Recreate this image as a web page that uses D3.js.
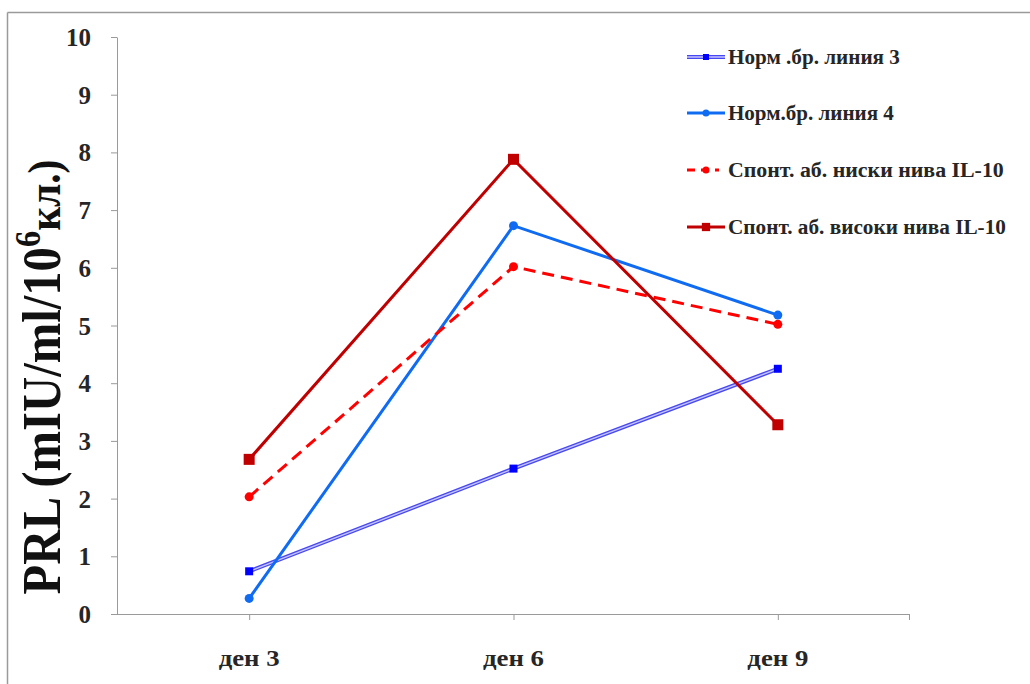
<!DOCTYPE html>
<html>
<head>
<meta charset="utf-8">
<script src="https://cdn.jsdelivr.net/npm/d3@7"></script>
<style>
  html, body { margin: 0; padding: 0; background: #fff; }
  svg { display: block; }
</style>
</head>
<body>
<svg id="chart" width="1030" height="684"></svg>
<script>
// Days on the x axis
const days = ["ден 3", "ден 6", "ден 9"];
// Y ticks
const yTicks = [0, 1, 2, 3, 4, 5, 6, 7, 8, 9, 10];

// PRL values per group
const normLine3 = [0.74, 2.52, 4.25];
const normLine4 = [0.27, 6.73, 5.18];
const spontLow = [2.03, 6.02, 5.02];
const spontHigh = [2.68, 7.88, 3.28];

const seriesNames = [
  "Норм .бр. линия 3",
  "Норм.бр. линия 4",
  "Спонт. аб. ниски нива IL-10",
  "Спонт. аб. високи нива IL-10"
];

const FONT = "Liberation Serif";
const TEXT_COLOR = "#262626";

const series = [
  { name: seriesNames[0], values: normLine3, kind: "double", color: "#4848f0", inner: "#c4c4ff", marker: "square", size: 8, markerColor: "#0000ff" },
  { name: seriesNames[1], values: normLine4, kind: "solid", color: "#0f6cf2", width: 3, marker: "circle", size: 4.5, markerColor: "#0f6cf2" },
  { name: seriesNames[2], values: spontLow, kind: "dashed", color: "#ff0000", width: 3, marker: "circle", size: 4.5, markerColor: "#ff0000" },
  { name: seriesNames[3], values: spontHigh, kind: "solid", color: "#c00000", width: 3, marker: "square", size: 11, markerColor: "#c00000" }
];

const svg = d3.select("#chart");

// squeeze a text element horizontally so it spans the given width
function fitWidth(textSel, width, anchorX) {
  const node = textSel.node();
  const len = node.getComputedTextLength();
  const k = width / len;
  textSel.attr("transform", `translate(${anchorX},0) scale(${k},1) translate(${-anchorX},0)`);
}

// frame edges
svg.append("line").attr("x1", 7.5).attr("y1", 12.5).attr("x2", 7.5).attr("y2", 684)
  .attr("stroke", "#9a9a9a").attr("stroke-width", 1.5);
svg.append("line").attr("x1", 7.5).attr("y1", 12.5).attr("x2", 1030).attr("y2", 12.5)
  .attr("stroke", "#9a9a9a").attr("stroke-width", 1.5);

const plot = { left: 117, right: 910, top: 37, bottom: 614 };

const x = d3.scaleBand().domain(days).range([plot.left, plot.right]);
const y = d3.scaleLinear().domain([0, 10]).range([plot.bottom, plot.top]);
const cx = d => x(d) + x.bandwidth() / 2;

// y axis
const yAxis = svg.append("g").attr("transform", `translate(${plot.left},0)`)
  .call(d3.axisLeft(y).tickValues(yTicks).tickSize(6).tickPadding(20).tickSizeOuter(0));
yAxis.select(".domain").attr("stroke", "#9a9a9a");
yAxis.selectAll(".tick line").attr("stroke", "#9a9a9a");
yAxis.selectAll(".tick text").attr("font-size", 25).attr("font-family", FONT)
  .attr("font-weight", "bold").attr("fill", TEXT_COLOR).attr("dy", "0.34em");

// x axis with ticks on category centers and at the right end
const xAxisG = svg.append("g").attr("transform", `translate(0,${plot.bottom})`);
xAxisG.append("line").attr("x1", plot.left).attr("x2", plot.right).attr("y1", 0.5).attr("y2", 0.5)
  .attr("stroke", "#9a9a9a");
days.forEach(d => {
  xAxisG.append("line").attr("x1", cx(d) + 0.5).attr("x2", cx(d) + 0.5).attr("y1", 0).attr("y2", 6)
    .attr("stroke", "#9a9a9a");
  const t = xAxisG.append("text").attr("x", cx(d)).attr("y", 52).attr("text-anchor", "middle")
    .attr("font-family", FONT).attr("font-weight", "bold").attr("fill", TEXT_COLOR)
    .attr("font-size", 24).text(d);
  fitWidth(t, 61, cx(d));
});
xAxisG.append("line").attr("x1", plot.right - 0.5).attr("x2", plot.right - 0.5).attr("y1", 0).attr("y2", 6)
  .attr("stroke", "#9a9a9a");

// y axis title
const titleG = svg.append("g").attr("transform", "translate(60,377) rotate(-90)");
const title = titleG.append("text").attr("x", 0).attr("y", 0)
  .attr("text-anchor", "middle").attr("font-size", 54)
  .attr("font-family", FONT).attr("font-weight", "bold").attr("fill", "#111");
title.append("tspan").text("PRL (mIU/ml/10");
title.append("tspan").attr("dy", -20).attr("font-size", 36).text("6");
title.append("tspan").attr("dy", 20).attr("font-size", 46).text("кл.)");
fitWidth(title, 435, 0);

const line = d3.line().x((v, i) => cx(days[i])).y(v => y(v));

function drawMarker(g, s, px, py) {
  if (s.marker === "square") {
    g.append("rect").attr("x", px - s.size / 2).attr("y", py - s.size / 2)
      .attr("width", s.size).attr("height", s.size).attr("fill", s.markerColor);
  } else {
    g.append("circle").attr("cx", px).attr("cy", py).attr("r", s.size).attr("fill", s.markerColor);
  }
}

function strokeSeries(g, s, pathD) {
  if (s.kind === "double") {
    g.append("path").attr("d", pathD).attr("fill", "none").attr("stroke", s.color).attr("stroke-width", 4);
    g.append("path").attr("d", pathD).attr("fill", "none").attr("stroke", s.inner).attr("stroke-width", 1.4);
  } else {
    g.append("path").attr("d", pathD).attr("fill", "none").attr("stroke", s.color)
      .attr("stroke-width", s.width)
      .attr("stroke-dasharray", s.kind === "dashed" ? "12,7" : null);
  }
}

// series lines and markers
series.forEach(s => {
  const g = svg.append("g");
  strokeSeries(g, s, line(s.values));
  s.values.forEach((v, i) => drawMarker(g, s, cx(days[i]), y(v)));
});

// legend
const legendY = [57, 113, 170, 227];
const legendWidth = [172, 166, 276, 278];
series.forEach((s, i) => {
  const g = svg.append("g");
  const ly = legendY[i];
  const lineD = `M687,${ly}L725,${ly}`;
  if (s.kind === "dashed") {
    g.append("path").attr("d", "M687," + ly + "L719," + ly).attr("fill", "none").attr("stroke", s.color)
      .attr("stroke-width", s.width).attr("stroke-dasharray", "8,6");
  } else {
    strokeSeries(g, s, lineD);
  }
  const ms = Object.assign({}, s, { size: s.marker === "square" ? s.size * 0.75 : 3.5 });
  drawMarker(g, ms, 706, ly);
  const t = g.append("text").attr("x", 728).attr("y", ly + 7).attr("font-size", 20)
    .attr("font-family", FONT).attr("font-weight", "bold").attr("fill", TEXT_COLOR).text(s.name);
  fitWidth(t, legendWidth[i], 728);
});
</script>
</body>
</html>
